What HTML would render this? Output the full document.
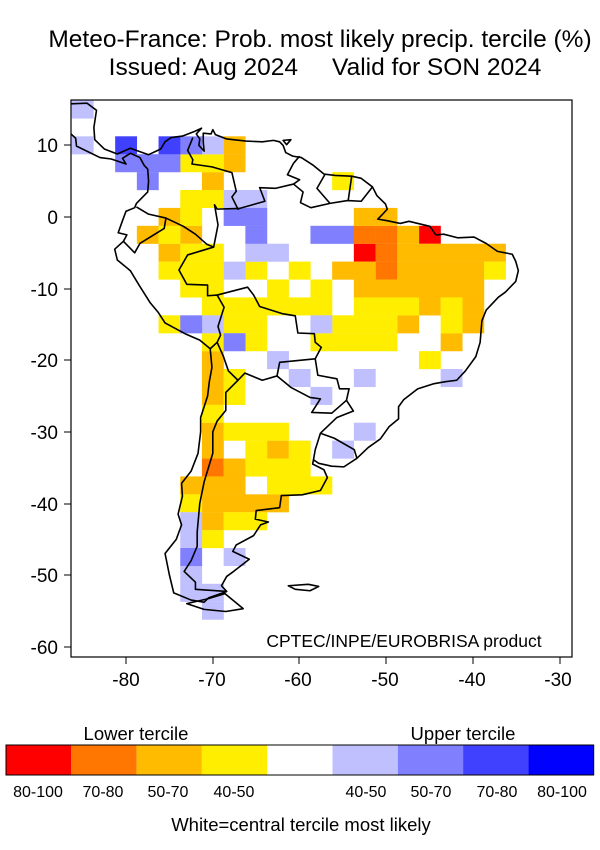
<!DOCTYPE html>
<html><head><meta charset="utf-8">
<style>
html,body{margin:0;padding:0;background:#fff;}
svg{display:block;font-family:"Liberation Sans",sans-serif;}
</style></head>
<body>
<svg width="600" height="850" viewBox="0 0 600 850" xmlns="http://www.w3.org/2000/svg">
<defs><clipPath id="c"><rect x="71" y="100" width="501" height="557"/></clipPath></defs>
<text x="320" y="47" font-size="24.5" text-anchor="middle">Meteo-France: Prob. most likely precip. tercile (%)</text>
<text x="325" y="75" font-size="24.5" text-anchor="middle">Issued: Aug 2024 &#160;&#160;&#160; Valid for SON 2024</text>
<g clip-path="url(#c)">
<g transform="matrix(8.68 0 0 -7.16 820.4 217)">
<g fill="#ff0000">
<rect x="-53.75" y="-6.25" width="2.52" height="2.52"/><rect x="-46.25" y="-3.75" width="2.52" height="2.52"/>
</g>
<g fill="#ff7700">
<rect x="-53.75" y="-3.75" width="2.52" height="2.52"/><rect x="-51.25" y="-3.75" width="2.52" height="2.52"/>
<rect x="-51.25" y="-6.25" width="2.52" height="2.52"/><rect x="-51.25" y="-8.75" width="2.52" height="2.52"/>
<rect x="-71.25" y="-36.25" width="2.52" height="2.52"/>
</g>
<g fill="#ffbb00">
<rect x="-68.75" y="8.75" width="2.52" height="2.52"/><rect x="-68.75" y="6.25" width="2.52" height="2.52"/>
<rect x="-71.25" y="3.75" width="2.52" height="2.52"/><rect x="-76.25" y="-1.25" width="2.52" height="2.52"/>
<rect x="-78.75" y="-3.75" width="2.52" height="2.52"/><rect x="-73.75" y="-3.75" width="2.52" height="2.52"/>
<rect x="-76.25" y="-6.25" width="2.52" height="2.52"/>
<rect x="-53.75" y="-1.25" width="2.52" height="2.52"/><rect x="-51.25" y="-1.25" width="2.52" height="2.52"/>
<rect x="-48.75" y="-3.75" width="2.52" height="2.52"/>
<rect x="-48.75" y="-6.25" width="12.52" height="2.52"/>
<rect x="-56.25" y="-8.75" width="5.02" height="2.52"/><rect x="-48.75" y="-8.75" width="10.02" height="2.52"/>
<rect x="-53.75" y="-11.25" width="15.02" height="2.52"/>
<rect x="-46.25" y="-13.75" width="2.52" height="2.52"/><rect x="-41.25" y="-13.75" width="2.52" height="2.52"/>
<rect x="-48.75" y="-16.25" width="2.52" height="2.52"/><rect x="-41.25" y="-16.25" width="2.52" height="2.52"/>
<rect x="-43.75" y="-18.75" width="2.52" height="2.52"/>
<rect x="-71.25" y="-26.25" width="2.52" height="7.52"/>
<rect x="-71.25" y="-33.75" width="2.52" height="5.02"/>
<rect x="-63.75" y="-33.75" width="2.52" height="2.52"/>
<rect x="-68.75" y="-36.25" width="2.52" height="2.52"/>
<rect x="-73.75" y="-38.75" width="7.52" height="2.52"/>
<rect x="-71.25" y="-41.25" width="10.02" height="2.52"/>
<rect x="-71.25" y="-43.75" width="2.52" height="2.52"/>
</g>
<g fill="#ffee00">
<rect x="-73.75" y="6.25" width="5.02" height="2.52"/>
<rect x="-73.75" y="1.25" width="5.02" height="2.52"/>
<rect x="-73.75" y="-1.25" width="2.52" height="2.52"/>
<rect x="-76.25" y="-3.75" width="2.52" height="2.52"/>
<rect x="-73.75" y="-6.25" width="5.02" height="2.52"/>
<rect x="-76.25" y="-8.75" width="7.52" height="2.52"/>
<rect x="-66.25" y="-8.75" width="2.52" height="2.52"/><rect x="-61.25" y="-8.75" width="2.52" height="2.52"/>
<rect x="-73.75" y="-11.25" width="5.02" height="2.52"/>
<rect x="-63.75" y="-11.25" width="2.52" height="2.52"/><rect x="-58.75" y="-11.25" width="2.52" height="2.52"/>
<rect x="-71.25" y="-13.75" width="15.02" height="2.52"/>
<rect x="-53.75" y="-13.75" width="7.52" height="2.52"/><rect x="-43.75" y="-13.75" width="2.52" height="2.52"/>
<rect x="-76.25" y="-16.25" width="2.52" height="2.52"/>
<rect x="-68.75" y="-16.25" width="5.02" height="2.52"/>
<rect x="-56.25" y="-16.25" width="7.52" height="2.52"/><rect x="-43.75" y="-16.25" width="2.52" height="2.52"/>
<rect x="-58.75" y="-18.75" width="10.02" height="2.52"/>
<rect x="-71.25" y="-18.75" width="2.52" height="2.52"/><rect x="-66.25" y="-18.75" width="2.52" height="2.52"/>
<rect x="-46.25" y="-21.25" width="2.52" height="2.52"/>
<rect x="-56.25" y="3.75" width="2.52" height="2.52"/>
<rect x="-38.75" y="-8.75" width="2.52" height="2.52"/>
<rect x="-68.75" y="-26.25" width="2.52" height="5.02"/>
<rect x="-71.25" y="-28.75" width="2.52" height="2.52"/>
<rect x="-68.75" y="-31.25" width="7.52" height="2.52"/>
<rect x="-66.25" y="-33.75" width="2.52" height="2.52"/><rect x="-61.25" y="-33.75" width="2.52" height="2.52"/>
<rect x="-66.25" y="-36.25" width="7.52" height="2.52"/>
<rect x="-63.75" y="-38.75" width="7.52" height="2.52"/>
<rect x="-73.75" y="-41.25" width="2.52" height="2.52"/>
<rect x="-68.75" y="-43.75" width="5.02" height="2.52"/>
<rect x="-71.25" y="-46.25" width="2.52" height="2.52"/>
</g>
<g fill="#c0c0ff">
<rect x="-86.25" y="13.75" width="2.52" height="2.52"/><rect x="-86.25" y="8.75" width="2.52" height="2.52"/>
<rect x="-71.25" y="8.75" width="2.52" height="2.52"/>
<rect x="-68.75" y="1.25" width="5.02" height="2.52"/>
<rect x="-66.25" y="-6.25" width="5.02" height="2.52"/>
<rect x="-68.75" y="-8.75" width="2.52" height="2.52"/>
<rect x="-71.25" y="-16.25" width="2.52" height="2.52"/><rect x="-58.75" y="-16.25" width="2.52" height="2.52"/>
<rect x="-63.75" y="-21.25" width="2.52" height="2.52"/>
<rect x="-61.25" y="-23.75" width="2.52" height="2.52"/><rect x="-53.75" y="-23.75" width="2.52" height="2.52"/>
<rect x="-43.75" y="-23.75" width="2.52" height="2.52"/>
<rect x="-58.75" y="-26.25" width="2.52" height="2.52"/>
<rect x="-53.75" y="-31.25" width="2.52" height="2.52"/><rect x="-56.25" y="-33.75" width="2.52" height="2.52"/>
<rect x="-73.75" y="-46.25" width="2.52" height="5.02"/>
<rect x="-68.75" y="-48.75" width="2.52" height="2.52"/>
<rect x="-73.75" y="-51.25" width="2.52" height="2.52"/>
<rect x="-73.75" y="-53.75" width="5.02" height="2.52"/>
<rect x="-71.25" y="-56.25" width="2.52" height="2.52"/>
</g>
<g fill="#8080ff">
<rect x="-73.75" y="8.75" width="2.52" height="2.52"/>
<rect x="-81.25" y="6.25" width="7.52" height="2.52"/>
<rect x="-78.75" y="3.75" width="2.52" height="2.52"/>
<rect x="-68.75" y="-1.25" width="5.02" height="2.52"/>
<rect x="-66.25" y="-3.75" width="2.52" height="2.52"/>
<rect x="-58.75" y="-3.75" width="5.02" height="2.52"/>
<rect x="-73.75" y="-16.25" width="2.52" height="2.52"/>
<rect x="-68.75" y="-18.75" width="2.52" height="2.52"/>
<rect x="-73.75" y="-48.75" width="2.52" height="2.52"/>
</g>
<g fill="#4040ff">
<rect x="-81.25" y="8.75" width="2.52" height="2.52"/><rect x="-76.25" y="8.75" width="2.52" height="2.52"/>
</g>
<g fill="none" stroke="#000" stroke-width="1.6" stroke-linejoin="round">
<path vector-effect="non-scaling-stroke" d="M-88,15.8 L-86.5,15.8 -84.5,15.9 -83.4,14.9 -83.7,12.5 -83.6,10.8 -82.5,9.5 -81,8.8 -79.5,9.6 -77.4,8.7 -76,9.5 -75.5,10.5 -74.8,11.1 -73.5,11.3 -72.2,11.9 -71.3,12.4 -71.9,11.6 -71.5,10.9 -71.6,10 -71,9.2 -71.1,10.5 -71.1,11.7 -70.2,11.6 -70,12.2 -69.7,11.5 -68.4,10.9 -66.2,10.6 -64.3,10.5 -63,10.7 -62.3,10.5 -61.9,10 -61.6,9 -60.8,8.5 -59.8,8.3 -58.4,7.2 -57.2,6 -55.9,5.8 -54,5.7 -52.9,5.4 -51.6,4.2 -51.1,3 -50.1,1.8 -49.9,1.1 -50.5,0.3 -51,-0.3 -50,-0.5 -48.4,-0.9 -47.4,-0.6 -45,-1.3 -44.3,-2.5 -43.4,-2.4 -41.8,-2.9 -39.9,-2.8 -38.5,-3.7 -37.2,-4.8 -35.5,-5.2 -35.1,-6.2 -34.8,-7.5 -35.1,-9 -36.3,-10.5 -37.1,-11.2 -38.5,-13 -39,-14.5 -39.2,-17.5 -39.7,-19.5 -40.9,-21.5 -41.9,-22.8 -43.2,-23 -44.6,-23.3 -46.4,-24 -48,-25.5 -48.6,-26.5 -48.6,-28.2 -49.7,-29.3 -50.7,-31 -52.1,-32.2 -53.4,-33.7 -54.9,-34.9 -56.3,-34.8 -57.8,-34.4 -58.4,-33.9 -58.5,-34.5 -57.2,-35.3 -56.8,-36.4 -57.6,-38.2 -59.7,-38.8 -62.1,-38.9 -62.3,-40.6 -65,-41 -65.1,-42.2 -63.6,-42.6 -64.5,-43 -65.3,-44.5 -67.3,-45.8 -67.7,-46.7 -65.8,-47.8 -67.6,-49.5 -68.4,-50.2 -69,-51.5 -68.4,-52.3 -70.5,-53.2 -71,-53.8 -72.5,-53.5 -74.5,-52.5 -75,-50 -75.5,-47 -74.2,-45 -73.6,-43 -74,-41.5 -73.5,-39 -73.6,-37.2 -72.5,-35.5 -71.7,-33 -71.4,-30 -71.4,-28 -70.6,-25 -70.4,-23 -70.1,-21 -70.3,-18.4 -71.5,-17.2 -73.2,-16.3 -75.5,-14.8 -76.3,-13.3 -77.2,-12 -78.5,-9.5 -79.5,-7.5 -81,-6 -81.3,-4.5 -80.3,-3.4 -79.9,-2.5 -80.9,-2.2 -80.4,-0.5 -80,0.8 -79,1.3 -78.8,1.9 -77.5,3.5 -77.4,5 -77.5,6.7 -77.9,7.2 -78.4,8.3 -79.5,8.9 -80.4,8.2 -80,7.4 -81.7,8.1 -83,8.3 -85.7,9.9 -85.8,11 -87.5,12.9"/>
<path vector-effect="non-scaling-stroke" d="M-68.6,-52.6 L-66.5,-54.7 -68.5,-55.1 -71,-54.8 -73,-54 -70.5,-53.3 -68.6,-52.6 Z"/>
<path vector-effect="non-scaling-stroke" d="M-61.3,-51.5 L-59,-51.3 -57.8,-51.6 -58.8,-52.2 -60.5,-52 Z"/>
<path vector-effect="non-scaling-stroke" d="M-61.5,10.1 L-61,10.8 -61.9,10.7 Z"/>
<path vector-effect="non-scaling-stroke" d="M-72.3,11.1 L-72.9,9.3 -72.3,8 -72.4,7.4 -70.1,7 -67.8,6.2 -67.3,3.6 -67.8,2.8 -67.1,1.1 -66.9,1.2 -64,2.2 -64.6,4.1 -62.8,4 -60.7,4.6 -60,5.2 -61.4,5.9 -60.7,7.5 -60,8.5"/>
<path vector-effect="non-scaling-stroke" d="M-60.7,4.6 L-59.6,3.5 -59.9,2 -58.7,1.3 -56.5,1.9 -54.5,2.3 -52.9,2.2 -51.6,4.2"/>
<path vector-effect="non-scaling-stroke" d="M-57.1,5.9 L-58,4 -56.5,1.9 M-54,5.7 L-54.4,2.3"/>
<path vector-effect="non-scaling-stroke" d="M-66.9,1.2 L-69.5,1.1 -69.8,1.7 -69.4,-1.1 -69.9,-4.2 -70.7,-3.8 -72,-2.4 -73.4,-1.3 -75.4,-0.15 -77.4,0.4 -78.8,1.4"/>
<path vector-effect="non-scaling-stroke" d="M-75.4,-0.15 L-75.6,-1.6 -78.4,-3.7 -79,-5 -80.3,-3.4"/>
<path vector-effect="non-scaling-stroke" d="M-69.9,-4.2 L-72.9,-5.3 -73.9,-7.4 -73,-9.4 -70.6,-9.5 -70.6,-11 -69.5,-10.9 -68.7,-12.6 -69.4,-15.3 -69.1,-16.5 -69.5,-17.5 -70.3,-18.4"/>
<path vector-effect="non-scaling-stroke" d="M-69.5,-10.9 L-66,-9.8 -65.3,-10.9 -64.6,-12.5 -62,-13.5 -60.5,-13.8 -60.2,-16.2 -58.3,-16.3 -58.2,-17.5 -57.5,-18.2 -58.2,-19.8 -62.3,-20.3 -62.6,-22.2 -64.3,-22.8 -66.3,-21.8 -67.1,-22.8 -68.2,-21.5 -68.8,-19.4 -69.5,-17.5"/>
<path vector-effect="non-scaling-stroke" d="M-62.6,-22.2 L-61,-23.8 -58.8,-25.2 -57.6,-25.4 -58.6,-27.3 -56.3,-27.4 -54.6,-25.6 -54.3,-24 -55.4,-24 -55.7,-22.6 -57.9,-22.1 -58.2,-19.8"/>
<path vector-effect="non-scaling-stroke" d="M-54.6,-25.6 L-53.8,-27.1 -55.7,-28 -57.6,-30.2 -56,-30.9 -53.7,-32.5 -53.4,-33.7 M-57.6,-30.2 L-58.2,-32.5 -58.4,-33.9"/>
<path vector-effect="non-scaling-stroke" d="M-67.1,-22.8 L-68.5,-24.5 -68.5,-27 -69.5,-28.5 -70,-30 -70,-33 -70.5,-35 -71,-37 -71.5,-40 -71.8,-44 -71.8,-46 -72.5,-48 -73.3,-49.5 -72,-51 -72,-52 -68.4,-52.3"/>
</g>
</g>
</g>
<rect x="71" y="100" width="501" height="557" fill="none" stroke="#000" stroke-width="1.2"/>
<g stroke="#000" stroke-width="1">
<line x1="64" y1="145" x2="71" y2="145"/><line x1="64" y1="217" x2="71" y2="217"/><line x1="64" y1="289" x2="71" y2="289"/><line x1="64" y1="360" x2="71" y2="360"/><line x1="64" y1="432" x2="71" y2="432"/><line x1="64" y1="504" x2="71" y2="504"/><line x1="64" y1="575" x2="71" y2="575"/><line x1="64" y1="647" x2="71" y2="647"/>
<line x1="126" y1="657" x2="126" y2="664"/><line x1="213" y1="657" x2="213" y2="664"/><line x1="299" y1="657" x2="299" y2="664"/><line x1="386" y1="657" x2="386" y2="664"/><line x1="473" y1="657" x2="473" y2="664"/><line x1="560" y1="657" x2="560" y2="664"/>
</g>
<g font-size="19" text-anchor="end">
<text x="58" y="152">10</text><text x="58" y="224">0</text><text x="58" y="296">-10</text><text x="58" y="367">-20</text><text x="58" y="439">-30</text><text x="58" y="511">-40</text><text x="58" y="582">-50</text><text x="58" y="654">-60</text>
</g>
<g font-size="19" text-anchor="middle">
<text x="126" y="686">-80</text><text x="212" y="686">-70</text><text x="298" y="686">-60</text><text x="385" y="686">-50</text><text x="472" y="686">-40</text><text x="558" y="686">-30</text>
</g>
<text x="404" y="647" font-size="17.5" text-anchor="middle">CPTEC/INPE/EUROBRISA product</text>
<text x="136" y="740" font-size="18.5" text-anchor="middle">Lower tercile</text>
<text x="463" y="740" font-size="18.5" text-anchor="middle">Upper tercile</text>
<rect x="6" y="745" width="65.3" height="30" fill="#ff0000"/>
<rect x="71.3" y="745" width="65.3" height="30" fill="#ff7700"/>
<rect x="136.6" y="745" width="65.3" height="30" fill="#ffbb00"/>
<rect x="201.9" y="745" width="65.3" height="30" fill="#ffee00"/>
<rect x="267.2" y="745" width="65.3" height="30" fill="#ffffff"/>
<rect x="332.5" y="745" width="65.3" height="30" fill="#c0c0ff"/>
<rect x="397.8" y="745" width="65.3" height="30" fill="#8080ff"/>
<rect x="463.1" y="745" width="65.3" height="30" fill="#4040ff"/>
<rect x="528.4" y="745" width="65.3" height="30" fill="#0000ff"/>
<rect x="6" y="745" width="587.7" height="30" fill="none" stroke="#000" stroke-width="1"/>
<g font-size="16" text-anchor="middle">
<text x="38" y="797">80-100</text><text x="103" y="797">70-80</text><text x="168" y="797">50-70</text><text x="234" y="797">40-50</text>
<text x="366" y="797">40-50</text><text x="431" y="797">50-70</text><text x="497" y="797">70-80</text><text x="562" y="797">80-100</text>
</g>
<text x="301" y="831" font-size="18.5" text-anchor="middle">White=central tercile most likely</text>
</svg>
</body></html>
